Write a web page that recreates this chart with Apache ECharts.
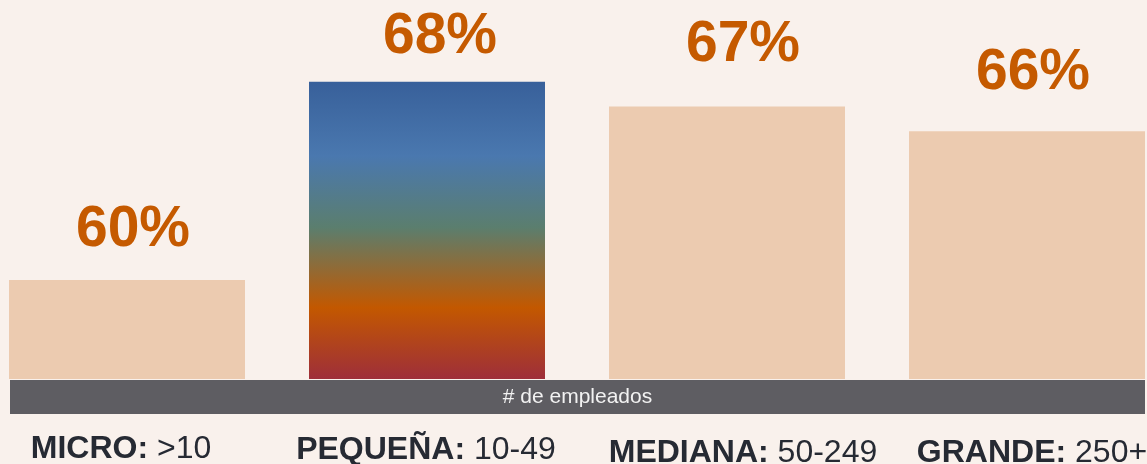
<!DOCTYPE html>
<html>
<head>
<meta charset="utf-8">
<script src="https://cdn.jsdelivr.net/npm/echarts@6/dist/echarts.min.js"></script>
<style>
  html, body { margin: 0; padding: 0; background: #F9F1EC; }
  #chart { width: 1147px; height: 464px; }
</style>
</head>
<body>
<div id="chart"></div>
<script>
// datos
var categorias = ['MICRO:', 'PEQUEÑA:', 'MEDIANA:', 'GRANDE:'];
var rangos = ['>10', '10-49', '50-249', '250+'];
var valores = [60, 68, 67, 66];
var destacado = 1;

// ajustes finos de etiquetas (px)
var labelOffsets = [[6, -21], [13, -15], [16, -32], [6, -29]];

var gradiente = new echarts.graphic.LinearGradient(0, 0, 0, 1, [
    { offset: 0, color: '#38609A' },
    { offset: 0.25, color: '#4A78AF' },
    { offset: 0.49, color: '#5B7E6E' },
    { offset: 0.76, color: '#C35800' },
    { offset: 1, color: '#9E2E3A' }
]);

var datos = valores.map(function (v, i) {
    return {
        value: v,
        itemStyle: { color: i === destacado ? gradiente : '#ECCBB0' },
        label: { offset: labelOffsets[i] }
    };
});

var rich = {};
var padB = [[0, 0, 0, 0], [0, 0, 0, 0], [0, 0, 0, 32], [0, 0, 0, 10]];
var padN = [[0, 12, 0, 0], [0, 2, 0, 0], [0, 0, 0, 0], [0, 0, 0, 0]];
var alto = [32, 34, 40, 40];
for (var i = 0; i < categorias.length; i++) {
    rich['b' + i] = { fontWeight: 'bold', fontSize: 32, color: '#262A33', fontFamily: 'Liberation Sans', padding: padB[i], lineHeight: alto[i] };
    rich['n' + i] = { fontSize: 32, color: '#262A33', fontFamily: 'Liberation Sans', padding: padN[i], lineHeight: alto[i] };
}

var chart = echarts.init(document.getElementById('chart'), null, { renderer: 'canvas' });
var option = {
    backgroundColor: '#F9F1EC',
    animation: false,
    grid: { left: -23, right: -30, top: 0, bottom: 85, outerBoundsMode: 'none', containLabel: false },
    graphic: [{
        type: 'rect',
        left: 10, top: 380,
        shape: { width: 1135, height: 34 },
        style: { fill: '#5E5D62' },
        textContent: {
            style: { text: '# de empleados', fill: '#F2F2F2', fontSize: 21, fontFamily: 'Liberation Sans' }
        },
        textConfig: { position: 'inside' }
    }],
    xAxis: {
        type: 'category',
        data: categorias,
        axisLine: { show: false },
        axisTick: { show: false },
        axisLabel: {
            interval: 0,
            margin: 54,
            formatter: function (v, idx) {
                return '{b' + idx + '|' + v + '}{n' + idx + '| ' + rangos[idx] + '}';
            },
            rich: rich
        }
    },
    yAxis: {
        type: 'value',
        min: 56,
        max: 71.3,
        show: false,
        splitLine: { show: false }
    },
    series: [{
        type: 'bar',
        data: datos,
        barWidth: 236,
        label: {
            show: true,
            position: 'top',
            distance: 0,
            formatter: '{c}%',
            color: '#C55A00',
            fontSize: 57,
            fontWeight: 'bold',
            lineHeight: 58,
            fontFamily: 'Liberation Sans'
        }
    }]
};
chart.setOption(option);
</script>
</body>
</html>
